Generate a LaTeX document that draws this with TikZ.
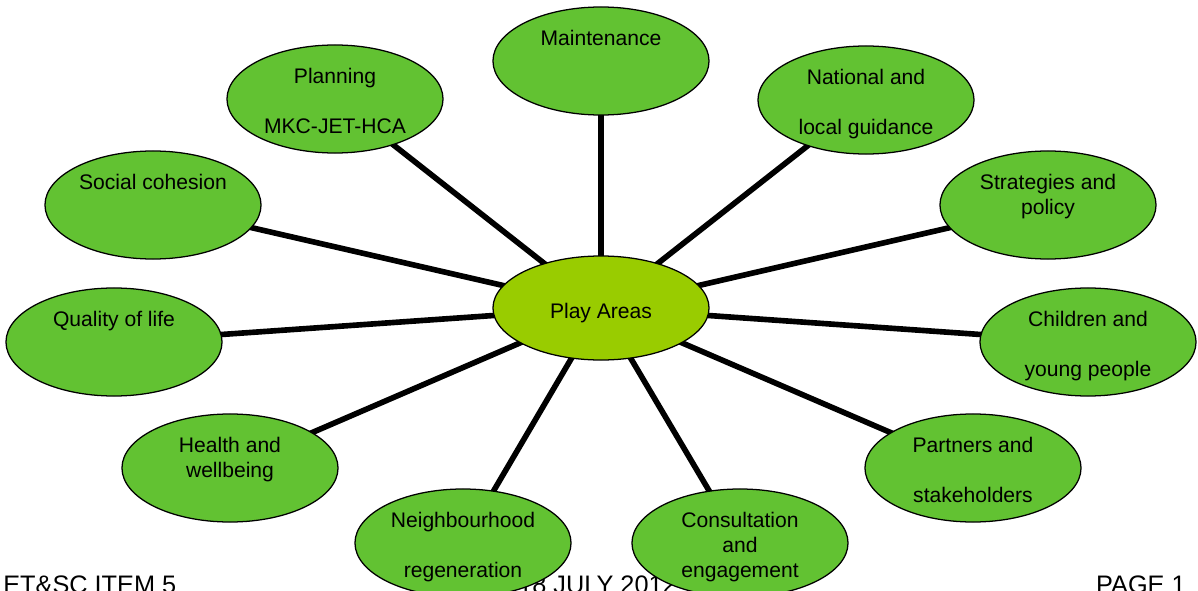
\documentclass[tikz,border=0pt]{standalone}
\usepackage{fontspec}
\setmainfont{Liberation Sans}
\usetikzlibrary{shapes.geometric,backgrounds}
\definecolor{leafgreen}{HTML}{62C232}
\definecolor{limegreen}{HTML}{99CC00}
\tikzstyle{cgreen}=[ellipse, draw, line width=0.9pt, fill=leafgreen, minimum width=5.4cm, minimum height=2.7cm, inner sep=0pt, align=center, font=\fontsize{15}{17.8}\selectfont]
\tikzstyle{clime}=[cgreen, fill=limegreen, minimum height=2.6cm]
\tikzstyle{spoke}=[line width=4pt]
\tikzstyle{foot}=[inner sep=0pt, anchor=base west, font=\fontsize{18}{21}\selectfont]
\newcommand{\dn}[1]{\raisebox{-3.5pt}[\height][\depth]{#1}}
\newcommand{\threeln}[3]{\dn{\begin{tabular}{@{}c@{}}\strut#1\\\strut#2\\\strut#3\end{tabular}}}

\begin{document}
\begin{tikzpicture}[x=0.025cm, y=-0.025cm]
\useasboundingbox (0,0) rectangle (1198,591);

% footer, partly hidden by the bottom bubbles
\node[foot] (ftl) at (3,593) {ET\&SC ITEM 5};
\node[foot] (ftm) at (518,593) {18 JULY 2012};
\node[foot, anchor=base east] (ftr) at (1186,593) {PAGE 1};

\node[clime] (play) at (601,308) {\dn{Play Areas}};

\node[cgreen] (maint)  at (601,61)  {\threeln{Maintenance}{}{}};
\node[cgreen] (plan)   at (335,99)  {\threeln{Planning}{}{MKC-JET-HCA}};
\node[cgreen] (natl)   at (866,100) {\threeln{National and}{}{local guidance}};
\node[cgreen] (strat)  at (1048,205) {\threeln{Strategies and}{policy}{}};
\node[cgreen] (child)  at (1088,342) {\threeln{Children and}{}{young people}};
\node[cgreen] (partn)  at (973,468) {\threeln{Partners and}{}{stakeholders}};
\node[cgreen] (consul) at (740,543) {\threeln{Consultation}{and}{engagement}};
\node[cgreen] (neigh)  at (463,543) {\threeln{Neighbourhood}{}{regeneration}};
\node[cgreen] (health) at (230,468) {\threeln{Health and}{wellbeing}{}};
\node[cgreen] (qual)   at (114,342) {\threeln{Quality of life}{}{}};
\node[cgreen] (social) at (153,205) {\threeln{Social cohesion}{}{}};

\begin{pgfonlayer}{background}
\foreach \n in {maint,plan,natl,strat,child,partn,consul,neigh,health,qual,social}
  \draw[spoke] (play.center) -- (\n.center);
\end{pgfonlayer}

\end{tikzpicture}
\end{document}
